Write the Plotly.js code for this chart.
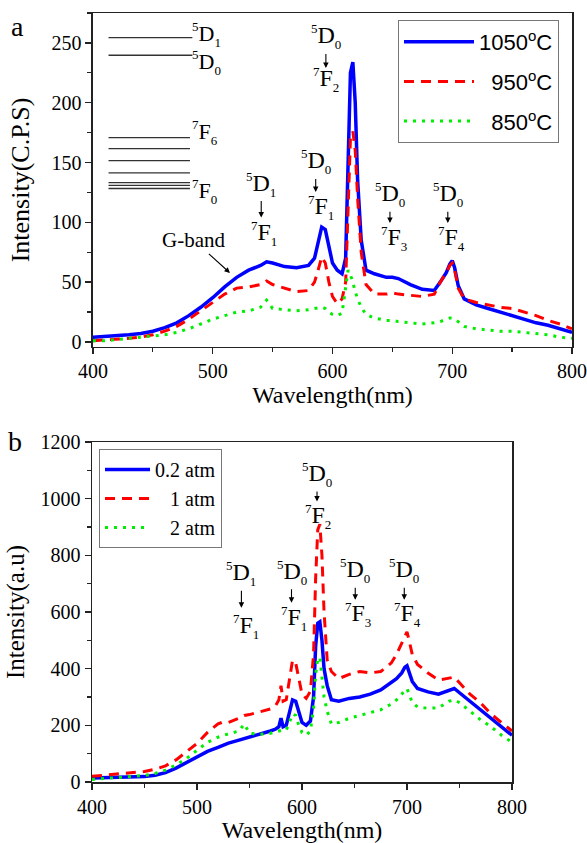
<!DOCTYPE html>
<html>
<head>
<meta charset="utf-8">
<script src="https://cdn.plot.ly/plotly-3.0.1.min.js"></script>
<style>html,body{margin:0;padding:0;background:#fff;}</style>
</head>
<body>
<div id="chart" style="width:587px;height:843px;"></div>
<script>
// ---------- Panel a: annealing temperature ----------
const wlA = [400,410,420,430,440,450,460,470,480,490,500,510,520,530,540,545,550,560,570,580,585,588,591,594,597,600,604,608,611,613,615,617,619,621,624,628,635,645,650,655,665,675,685,690,695,698,700,702,705,710,720,730,740,750,760,770,780,790,800];
const blueA = [4,4.5,5,6,7,9,12,16,22,29,37,46,54,60,64,67,66,63,62,64,70,82,96,94,80,66,60,57,70,150,225,234,200,135,85,60,57,54,54,53,48,44,43,50,58,65,68,62,47,36,31,28,25,22,19,16,14,11,8];
const redA = [1,1.5,2,3,4,6,9,13,19,26,33,40,45,46,48,51,48,45,42,43,50,60,71,66,50,38,32,36,50,110,170,176,160,120,75,48,40,40,41,40,39,38,40,50,58,64,66,60,45,36,33,31,29,28,25,22,18,15,11];
const greenA = [1,1,2,3,4,5,6,8,11,15,19,22,25,26,29,35,28,27,26,27,28,29,29,28,25,23,22,24,45,60,56,50,42,36,29,23,20,18,18,17,16,15,16,17,19,20,20,19,17,13,11,10,9,9,8,7,6,4,3];
const tempsA = ["1050", "950", "850"];

// Eu3+ energy levels drawn in panel a (C.P.S scale)
const levelsD = [254.4, 239.7];
const levelsF = [170.8, 161.6, 151.6, 141.3, 133.2, 130.9, 128.3];

// ---------- Panel b: oxygen pressure ----------
const wlB = [400,410,420,430,440,450,460,470,480,490,500,510,520,525,530,540,545,550,560,570,575,578,580,582,585,588,591,594,597,600,604,608,611,613,615,617,619,621,624,628,635,645,655,665,675,685,690,695,698,700,702,705,710,720,730,740,745,750,760,770,780,790,800];
const blueB = [14,15,16,17,18,19,24,33,49,68,89,108,122,130,137,148,153,159,170,180,187,195,225,195,200,250,290,285,245,210,200,215,300,480,560,565,500,400,340,290,285,295,300,310,325,350,365,385,405,410,390,355,330,318,310,325,330,315,285,255,225,195,165];
const redB = [20,23,26,30,33,37,45,57,78,106,136,175,205,212,210,225,235,238,247,258,270,290,340,285,290,360,430,420,360,310,295,320,450,720,890,910,800,600,430,390,365,380,390,385,390,420,450,490,520,530,500,450,415,385,360,365,370,350,310,280,240,210,180];
const greenB = [9,12,15,17,20,23,30,42,60,83,112,140,158,165,170,180,205,172,168,172,176,180,182,180,183,210,240,235,200,175,165,180,260,380,435,440,380,300,250,205,210,225,235,245,255,275,290,310,325,330,310,280,265,260,262,285,290,280,250,220,195,165,140];
const namesB = ["0.2 atm", "\u00a0\u00a0\u00a01 atm", "\u00a0\u00a0\u00a02 atm"];

const SERIF = 'Liberation Serif';
const SANS = 'Liberation Sans';
const BLUE = '#0000ff', RED = '#ff0000', GREEN = '#00ee00';

// superscript / subscript via baseline-shift (no extra reset tspans)
function up(t, size, shift) { return '<span style="font-size:' + size + 'px;baseline-shift:' + shift + 'px">' + t + '</span>'; }
const namesA = tempsA.map((t, i) => (i ? '\u00a0\u00a0' : '') + t + up('o', 15, 9) + 'C');

const traces = [
  {x: wlA, y: blueA, name: namesA[0], type: 'scatter', mode: 'lines', xaxis: 'x', yaxis: 'y', legend: 'legend', legendgroup: 'a1',
   line: {color: BLUE, width: 3.5}},
  {x: wlA, y: redA, name: namesA[1], type: 'scatter', mode: 'lines', xaxis: 'x', yaxis: 'y', legend: 'legend', legendgroup: 'a2',
   line: {color: RED, width: 3, dash: '10px,7px'}},
  {x: wlA, y: greenA, name: namesA[2], type: 'scatter', mode: 'lines', xaxis: 'x', yaxis: 'y', legend: 'legend', legendgroup: 'a3',
   line: {color: GREEN, width: 3, dash: '3px,6px'}},
  {x: wlB, y: blueB, name: namesB[0], type: 'scatter', mode: 'lines', xaxis: 'x2', yaxis: 'y2', legend: 'legend2',
   line: {color: BLUE, width: 3.5}},
  {x: wlB, y: redB, name: namesB[1], type: 'scatter', mode: 'lines', xaxis: 'x2', yaxis: 'y2', legend: 'legend2',
   line: {color: RED, width: 3, dash: '10px,7px'}},
  {x: wlB, y: greenB, name: namesB[2], type: 'scatter', mode: 'lines', xaxis: 'x2', yaxis: 'y2', legend: 'legend2',
   line: {color: GREEN, width: 3, dash: '3px,6px'}}
];

function ax(extra) {
  return Object.assign({
    showline: true, mirror: true, linecolor: '#222', linewidth: 1.5,
    ticks: 'outside', ticklen: 6, tickwidth: 1.3, tickcolor: '#222',
    showgrid: false, zeroline: false,
    tickfont: {family: SERIF, size: 20}
  }, extra);
}

function term(pre, letter, sub) {
  return up(pre, 13, 10) + letter + up(sub, 13, -6);
}
function label(xr, yr, x, y, pre, letter, sub, size, anchor) {
  return {xref: xr, yref: yr, x: x, y: y, showarrow: false, text: term(pre, letter, sub),
          font: {family: SERIF, size: size}, xanchor: anchor || 'center', yanchor: 'middle'};
}
// upper level label with an arrow pointing down to tipY
function upper(xr, yr, x, y, pre, sub, tipY) {
  return {xref: xr, yref: yr, axref: xr, ayref: yr, x: x, y: tipY, ax: x, ay: y, text: term(pre, 'D', sub),
          font: {family: SERIF, size: 24}, showarrow: true, arrowhead: 2, arrowsize: 1, arrowwidth: 1.1,
          arrowcolor: '#000', standoff: 0, startstandoff: 0};
}

const annotations = [
  {xref: 'paper', yref: 'paper', x: -0.155, y: 0.982, text: 'a', showarrow: false, xanchor: 'center', yanchor: 'middle',
   font: {family: SERIF, size: 28}},
  {xref: 'paper', yref: 'paper', x: -0.16, y: 0.443, text: 'b', showarrow: false, xanchor: 'center', yanchor: 'middle',
   font: {family: SERIF, size: 28}},
  // level labels
  label('x', 'y', 481, 257, '5', 'D', '1', 22, 'left'),
  label('x', 'y', 481, 234, '5', 'D', '0', 22, 'left'),
  label('x', 'y', 481, 174.7, '7', 'F', '6', 22, 'left'),
  label('x', 'y', 481, 126, '7', 'F', '0', 22, 'left'),
  // panel a transitions
  upper('x', 'y', 594.5, 255, '5', '0', 229), label('x', 'y', 595, 219, '7', 'F', '2', 24),
  upper('x', 'y', 540.5, 132, '5', '1', 104), label('x', 'y', 543, 91, '7', 'F', '1', 24),
  upper('x', 'y', 586, 150.5, '5', '0', 125.4), label('x', 'y', 590, 112.5, '7', 'F', '1', 24),
  upper('x', 'y', 648, 123, '5', '0', 99.5), label('x', 'y', 651, 86.5, '7', 'F', '3', 24),
  upper('x', 'y', 696.3, 123, '5', '0', 99.5), label('x', 'y', 699.4, 86.5, '7', 'F', '4', 24),
  {xref: 'x', yref: 'y', axref: 'x', ayref: 'y', x: 514.4, y: 57.7, ax: 484.3, ay: 84.9, text: 'G-band', showarrow: true,
   arrowhead: 2, arrowsize: 1, arrowwidth: 1.1, arrowcolor: '#000', standoff: 0, font: {family: SERIF, size: 21}},
  // panel b transitions
  upper('x2', 'y2', 542.3, 735, '5', '1', 615), label('x2', 'y2', 547, 550, '7', 'F', '1', 24),
  upper('x2', 'y2', 590, 740, '5', '0', 633), label('x2', 'y2', 592.2, 578, '7', 'F', '1', 24),
  upper('x2', 'y2', 614.3, 1085, '5', '0', 990), label('x2', 'y2', 615, 938, '7', 'F', '2', 24),
  upper('x2', 'y2', 650.7, 746, '5', '0', 643), label('x2', 'y2', 653.1, 590, '7', 'F', '3', 24),
  upper('x2', 'y2', 697.4, 746, '5', '0', 643), label('x2', 'y2', 700.8, 590, '7', 'F', '4', 24)
];

const shapes = [];
levelsD.forEach(v => shapes.push({type: 'line', xref: 'x', yref: 'y', x0: 413, x1: 483, y0: v, y1: v, line: {color: '#333', width: 1.3}}));
levelsF.forEach(v => shapes.push({type: 'line', xref: 'x', yref: 'y', x0: 413, x1: 481, y0: v, y1: v, line: {color: '#333', width: 1.3}}));

const NB = '\u00a0';
const minorTicks = d => ({dtick: d, ticklen: 4, ticks: 'outside', tickcolor: '#222'});
const layout = {
  width: 587, height: 843,
  margin: {l: 92, r: 15, t: 13, b: 61},
  paper_bgcolor: '#fff', plot_bgcolor: '#fff',
  font: {family: SERIF, color: '#000'},
  xaxis: ax({domain: [0.002, 1], anchor: 'y', range: [400, 800], dtick: 100, tick0: 400, minor: minorTicks(50),
             title: {text: 'Wavelength(nm)', font: {family: SERIF, size: 24}, standoff: 4}}),
  yaxis: ax({domain: [0.5657, 1], anchor: 'x', range: [-4.2, 275], dtick: 50, tick0: 0, minor: minorTicks(25),
             title: {text: NB.repeat(7) + 'Intensity(C.P.S)', font: {family: SERIF, size: 26}, standoff: 14}}),
  xaxis2: ax({domain: [0, 0.875], anchor: 'y2', range: [400, 800], dtick: 100, tick0: 400, minor: minorTicks(50),
              title: {text: 'Wavelength(nm)', font: {family: SERIF, size: 24}, standoff: 4}}),
  yaxis2: ax({domain: [0, 0.4421], anchor: 'x2', range: [0, 1200], dtick: 200, tick0: 0, minor: minorTicks(100),
              title: {text: 'Intensity(a.u)' + NB.repeat(6), font: {family: SERIF, size: 25}, standoff: 8}}),
  legend: {x: 0.6375, y: 0.9909, xanchor: 'left', yanchor: 'top', bgcolor: '#fff', bordercolor: '#777', borderwidth: 1,
           font: {family: SANS, size: 22}, tracegroupgap: 8, traceorder: 'grouped', itemwidth: 70},
  legend2: {x: 0.0146, y: 0.433, xanchor: 'left', yanchor: 'top', bgcolor: '#fff', bordercolor: '#777', borderwidth: 1,
            font: {family: SERIF, size: 20}, itemwidth: 45},
  annotations: annotations,
  shapes: shapes
};

Plotly.newPlot('chart', traces, layout, {displayModeBar: false, staticPlot: true});
</script>
</body>
</html>
